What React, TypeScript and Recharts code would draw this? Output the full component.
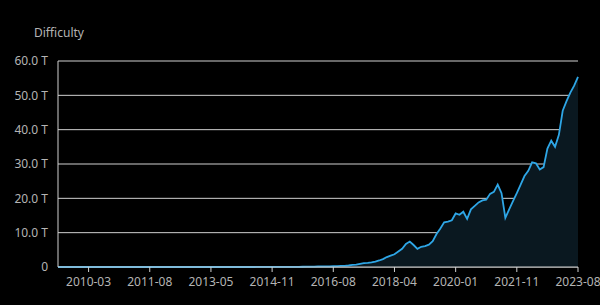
import React from 'react';
import {AreaChart, Area, XAxis, YAxis, CartesianGrid} from 'recharts';

// Bitcoin difficulty in T, sampled at even steps along the axis (16 steps between labelled ticks)
const difficultyT = [
    0, 0, 0, 0, 0, 0, 0, 0, 0, 0,
    0, 0, 0, 0, 0, 0, 0.000001, 0.000001, 0.000001, 0.000001,
    0.000001, 0.000001, 0.000002, 0.000002, 0.000002, 0.000001, 0.000001, 0.000001, 0.000001, 0.000002,
    0.000002, 0.000002, 0.000002, 0.000003, 0.000003, 0.000003, 0.000004, 0.000005, 0.000006, 0.000008,
    0.00001, 0.00001, 0.00002, 0.00003, 0.00005, 0.0001, 0.0003, 0.0006, 0.0012, 0.002,
    0.003, 0.005, 0.008, 0.013, 0.019, 0.027, 0.04, 0.042, 0.044, 0.047,
    0.048, 0.05, 0.052, 0.06, 0.07, 0.08, 0.10, 0.12, 0.16, 0.19,
    0.2, 0.21, 0.22, 0.25, 0.3, 0.33, 0.44, 0.6, 0.7, 0.9,
    1.1, 1.2, 1.35, 1.6, 1.9, 2.3, 2.9, 3.3, 3.7, 4.5,
    5.3, 6.7, 7.4, 6.4, 5.3, 5.9, 6.1, 6.5, 7.5, 9.6,
    11.2, 13.0, 13.2, 13.6, 15.6, 15.2, 16.1, 14.0, 16.8, 17.8,
    18.8, 19.4, 19.6, 21.3, 21.9, 24.0, 21.5, 14.3, 16.8, 19.2,
    21.5, 24.0, 26.5, 28.0, 30.5, 30.2, 28.4, 29.1, 34.5, 36.8,
    35.0, 38.5, 45.5, 48.3, 50.8, 52.8, 55.4,
];

// labelled x ticks and the sample index they sit on
const tickLabels = ['2010-03', '2011-08', '2013-05', '2014-11', '2016-08', '2018-04', '2020-01', '2021-11', '2023-08'];
const tickIndexes = [8, 24, 40, 56, 72, 88, 104, 120, 136];
const yTicks = [0, 10, 20, 30, 40, 50, 60];

const data = difficultyT.map((v, i) => ({idx: i, value: v}));

const font = '"Noto Sans", sans-serif';
const textColor = '#b4b4b4';
const lineColor = '#d0d0d0';

const App: React.FC = () => {
    const formatX = (v: number) => {
        const k = tickIndexes.indexOf(v);
        return k >= 0 ? tickLabels[k] : '';
    };
    const formatY = (v: number) => (v === 0 ? '0' : `${v.toFixed(1)} T`);

    return (
        <div style={{position: 'absolute', left: 0, top: 0, width: 600, height: 305, background: '#000', fontFamily: font}}>
            <div style={{position: 'absolute', left: 34, top: 27, fontSize: 12, lineHeight: 1, color: textColor}}>
                Difficulty
            </div>
            <AreaChart width={600} height={305} data={data} margin={{top: 61, right: 22, bottom: 0, left: 0}}>
                <CartesianGrid vertical={false} stroke={lineColor} strokeWidth={1}/>
                <XAxis
                    dataKey="idx"
                    type="number"
                    domain={[0, 136]}
                    ticks={tickIndexes}
                    tickFormatter={formatX}
                    interval={0}
                    height={38}
                    stroke={lineColor}
                    tickSize={5}
                    tickMargin={5}
                    tick={{fill: textColor, fontSize: 12, fontFamily: font}}
                />
                <YAxis
                    domain={[0, 60]}
                    ticks={yTicks}
                    tickFormatter={formatY}
                    width={58}
                    stroke={lineColor}
                    tickLine={false}
                    tickSize={6}
                    tickMargin={4}
                    tick={{fill: textColor, fontSize: 12, fontFamily: font}}
                />
                <Area
                    type="linear"
                    dataKey="value"
                    stroke="#2ea6e6"
                    strokeWidth={1.8}
                    fill="#0a1820"
                    fillOpacity={1}
                    dot={false}
                    activeDot={false}
                    isAnimationActive={false}
                />
            </AreaChart>
        </div>
    );
};

export default App;
